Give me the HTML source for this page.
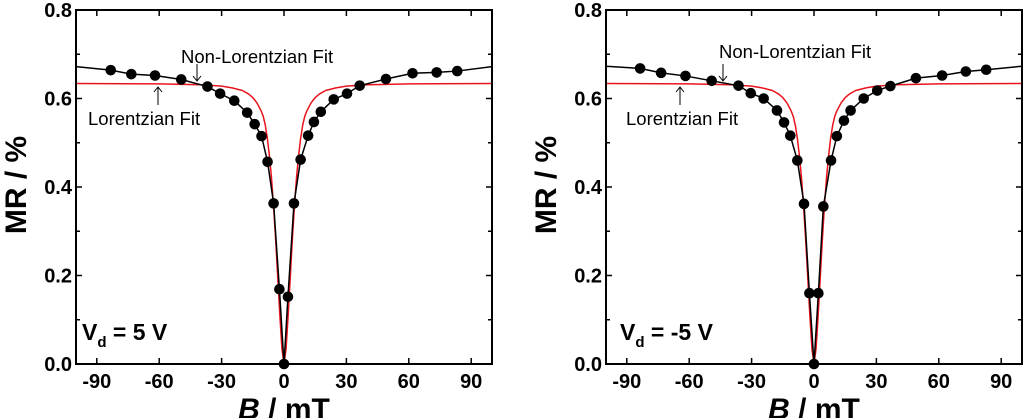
<!DOCTYPE html>
<html><head><meta charset="utf-8">
<style>
html,body{margin:0;padding:0;background:#fff;}
svg{display:block;font-family:"Liberation Sans",Arial,sans-serif;}
</style></head>
<body>
<svg id="chart" width="1024" height="418" viewBox="0 0 1024 418"></svg>
<script>
// ---- Data ----
const xTicks = [-90,-60,-30,0,30,60,90];
const yTicks = [0.0,0.2,0.4,0.6,0.8];
const panelLabels = ["5 V","-5 V"];

const leftB  = [-83.3,-73.4,-62,-49.4,-36.8,-30.7,-23.9,-17.7,-14.1,-10.8,-7.9,-5,-2.2,0,1.9,4.8,8,11.6,14.4,17.7,23.9,30.3,36.4,49,61.8,73.4,83.3];
const leftMR = [0.664,0.655,0.652,0.643,0.627,0.611,0.595,0.568,0.542,0.515,0.457,0.363,0.169,0,0.152,0.363,0.462,0.516,0.547,0.570,0.598,0.611,0.629,0.644,0.657,0.659,0.662];
const leftFitEdge = 0.672;

const rightB  = [-83.6,-73.5,-61.8,-49.2,-36.3,-30.4,-24.2,-17.8,-14.4,-11.4,-8,-4.8,-2.2,0,2.1,4.5,8.2,11,14.4,17.6,23.9,30.4,36.7,49,61.6,73,82.8];
const rightMR = [0.668,0.658,0.651,0.640,0.629,0.612,0.600,0.573,0.546,0.516,0.460,0.362,0.160,0,0.160,0.356,0.460,0.515,0.550,0.573,0.600,0.618,0.628,0.646,0.652,0.661,0.665];
const rightFitEdge = 0.673;

const lorB  = [-100,-60,-40,-30,-25,-20,-17,-15,-13,-11,-10,-9,-8,-7,-6,-5,-4,-3,-2,-1,0,1,2,3,4,5,6,7,8,9,10,11,13,15,17,20,25,30,40,60,100];
const lorMR = [0.634,0.633,0.631,0.628,0.624,0.618,0.610,0.602,0.590,0.572,0.560,0.540,0.510,0.470,0.420,0.355,0.280,0.195,0.110,0.035,0,0.035,0.110,0.195,0.280,0.355,0.420,0.470,0.510,0.540,0.560,0.572,0.590,0.602,0.610,0.618,0.624,0.628,0.631,0.633,0.634];

const NS = "http://www.w3.org/2000/svg";
const svg = document.getElementById("chart");
function mk(tag, attrs, parent){
  const e = document.createElementNS(NS, tag);
  for (const k in attrs) e.setAttribute(k, attrs[k]);
  (parent||svg).appendChild(e);
  return e;
}

function panel(x0, x1, y0, y1, B, MR, edge, label, ann, idx){
  const g = mk("g", {});
  
  
  const sx = v => x0 + (v + 100) / 200 * (x1 - x0);
  const sy = v => y1 - v / 0.8 * (y1 - y0);

  xTicks.forEach(t => {
    const x = sx(t);
    const a = mk("line", {x1:x, x2:x, y1:y1, y2:y1-6, stroke:"#000","stroke-width":1.5}, g);
    
    
    mk("line", {x1:x, x2:x, y1:y0, y2:y0+6, stroke:"#000","stroke-width":1.5}, g);
    const tx = mk("text", {x:x, y:y1+24, "text-anchor":"middle","font-size":20,"font-weight":"bold"}, g);
    tx.textContent = t;
    
    
  });
  for (let v = 0.1; v < 0.8; v += 0.2) {
    const y = sy(v);
    mk("line", {x1:x0, x2:x0+4, y1:y, y2:y, stroke:"#000","stroke-width":1.5}, g);
    mk("line", {x1:x1, x2:x1-4, y1:y, y2:y, stroke:"#000","stroke-width":1.5}, g);
  }
  yTicks.forEach(t => {
    const y = sy(t);
    const a = mk("line", {x1:x0, x2:x0+6, y1:y, y2:y, stroke:"#000","stroke-width":1.5}, g);
    
    
    mk("line", {x1:x1, x2:x1-6, y1:y, y2:y, stroke:"#000","stroke-width":1.5}, g);
    const tx = mk("text", {x:x0-4, y:y+7, "text-anchor":"end","font-size":20,"font-weight":"bold"}, g);
    tx.textContent = t.toFixed(1);
    
    
  });

  const lp = lorB.map((b,i)=> sx(b)+","+sy(lorMR[i])).join(" ");
  const lor = mk("polyline", {points:lp, fill:"none", stroke:"#e8141c","stroke-width":1.5,"stroke-linejoin":"round"}, g);
  
  

  const bp = [sx(-100)+","+sy(edge)].concat(B.map((b,i)=> sx(b)+","+sy(MR[i]))).concat([sx(100)+","+sy(edge)]).join(" ");
  const nl = mk("polyline", {points:bp, fill:"none", stroke:"#000","stroke-width":1.5}, g);
  
  

  B.forEach((b,i) => {
    const c = mk("circle", {cx:sx(b), cy:sy(MR[i]), r:5.3, fill:"#000"}, g);
    
    
  });

  const fr = mk("rect", {x:x0, y:y0, width:x1-x0, height:y1-y0, fill:"none", stroke:"#000","stroke-width":2}, g);
  
  

  const t1 = mk("text", {x:ann.nlx, y:ann.nly, "font-size":18.5}, g);
  t1.textContent = "Non-Lorentzian Fit";
  
  
  mk("line", {x1:ann.nla, x2:ann.nla, y1:64, y2:81, stroke:"#000","stroke-width":1}, g);
  mk("polyline", {points:(ann.nla-4)+",76 "+ann.nla+",81 "+(ann.nla+4)+",76", fill:"none", stroke:"#000","stroke-width":1}, g);
  const t2 = mk("text", {x:ann.lx, y:125, "font-size":18.5}, g);
  t2.textContent = "Lorentzian Fit";
  
  
  mk("line", {x1:ann.la, x2:ann.la, y1:87, y2:105, stroke:"#000","stroke-width":1}, g);
  mk("polyline", {points:(ann.la-4)+",92 "+ann.la+",87 "+(ann.la+4)+",92", fill:"none", stroke:"#000","stroke-width":1}, g);

  const vd = mk("text", {x:ann.vx, y:340, "font-size":23,"font-weight":"bold"}, g);
  
  
  vd.innerHTML = 'V<tspan font-size="15" dy="7">d</tspan><tspan dy="-7"> = ' + label + '</tspan>';

  const xt = mk("text", {x:(x0+x1)/2, y:419, "text-anchor":"middle","font-size":30,"font-weight":"bold"}, g);
  xt.innerHTML = '<tspan font-style="italic">B</tspan> / mT';
  
  
  const yt = mk("text", {x:0, y:0, "text-anchor":"middle","font-size":30,"font-weight":"bold", transform:"translate("+(x0-50)+",185) rotate(-90)"}, g);
  yt.textContent = "MR / %";
  
  
}

panel(76, 492, 10, 364, leftB, leftMR, leftFitEdge, panelLabels[0], {nlx:181, nly:63, nla:197, lx:88, la:158, vx:82}, 0);
panel(606, 1022, 10, 364, rightB, rightMR, rightFitEdge, panelLabels[1], {nlx:719, nly:58, nla:723, lx:626, la:680, vx:620}, 1);
</script>
</body></html>
